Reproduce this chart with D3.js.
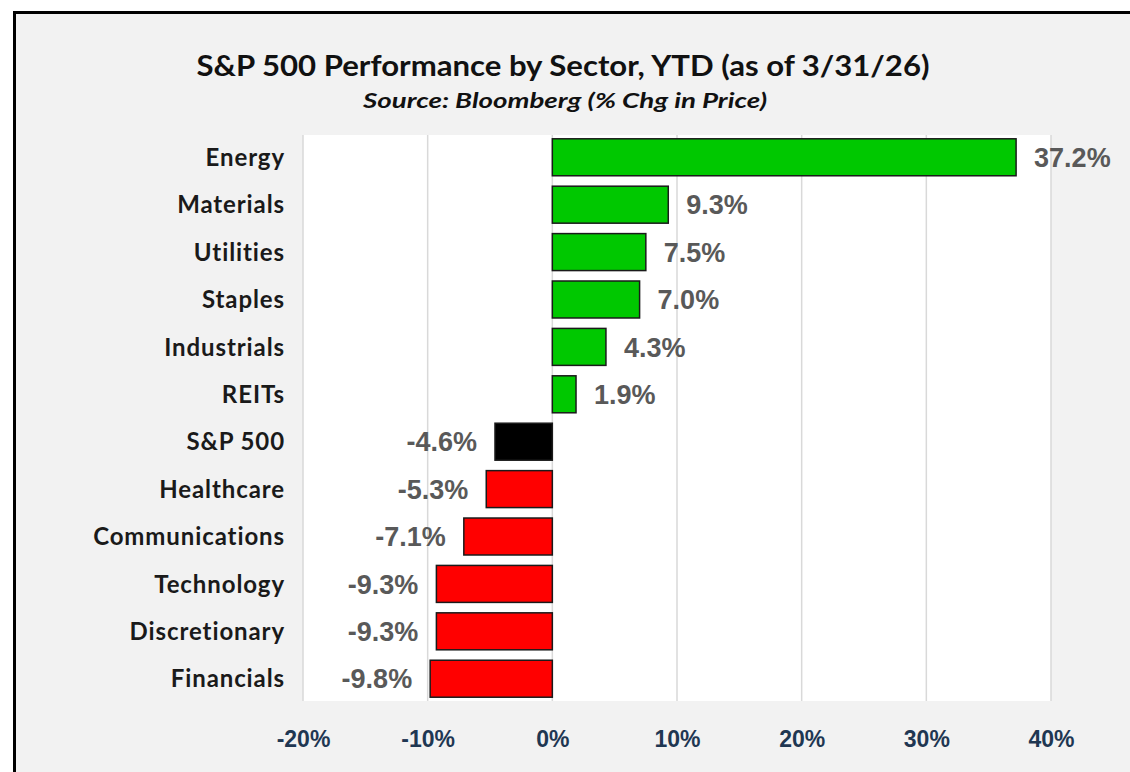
<!DOCTYPE html>
<html>
<head>
<meta charset="utf-8">
<script src="https://cdn.jsdelivr.net/npm/d3@7"></script>
<style>
  body { margin: 0; background: #ffffff; }
</style>
</head>
<body>
<div id="chart"></div>
<script>
const sectors = ["Energy", "Materials", "Utilities", "Staples", "Industrials", "REITs",
  "S&P 500", "Healthcare", "Communications", "Technology", "Discretionary", "Financials"];
const changes = [37.2, 9.3, 7.5, 7.0, 4.3, 1.9, -4.6, -5.3, -7.1, -9.3, -9.3, -9.8];
const tickValues = [-20, -10, 0, 10, 20, 30, 40];

const width = 1130, height = 772;

const svg = d3.select("#chart").append("svg")
  .attr("width", width).attr("height", height);

// frame
svg.append("rect")
  .attr("x", 14.5).attr("y", 12.5)
  .attr("width", width + 20).attr("height", height + 20)
  .attr("fill", "#f2f2f2")
  .attr("stroke", "#000").attr("stroke-width", 3);

const plot = { left: 303, right: 1051, top: 135, bottom: 701 };

const x = d3.scaleLinear().domain([-20, 40]).range([plot.left, plot.right]);
const y = d3.scaleBand().domain(sectors).range([plot.top, plot.bottom]).paddingInner(0.22).paddingOuter(0.08);

svg.append("rect")
  .attr("x", plot.left).attr("y", plot.top)
  .attr("width", plot.right - plot.left).attr("height", plot.bottom - plot.top)
  .attr("fill", "#fff");

// gridlines
svg.append("g")
  .selectAll("line")
  .data(tickValues)
  .enter()
  .append("line")
  .attr("x1", d => x(d)).attr("x2", d => x(d))
  .attr("y1", plot.top).attr("y2", plot.bottom)
  .attr("stroke", "#d9d9d9").attr("stroke-width", 1.5);

// x axis tick labels
const xAxis = d3.axisBottom(x).tickValues(tickValues).tickSize(0).tickFormat(d => d + "%");
const gx = svg.append("g")
  .attr("transform", "translate(0," + (plot.bottom + 27) + ")")
  .call(xAxis);
gx.select(".domain").remove();
gx.selectAll("text")
  .style("font-family", "'Liberation Sans Narrow', 'Arial Narrow', 'Liberation Sans', sans-serif")
  .style("font-stretch", "condensed")
  .style("font-weight", "bold")
  .style("font-size", "23px")
  .style("fill", "#1f3752");

// bars
const rows = sectors.map((s, i) => ({ sector: s, value: changes[i] }));

svg.append("g")
  .selectAll("rect")
  .data(rows)
  .enter()
  .append("rect")
  .attr("x", d => x(Math.min(0, d.value)))
  .attr("y", d => y(d.sector))
  .attr("width", d => Math.abs(x(d.value) - x(0)))
  .attr("height", y.bandwidth())
  .attr("fill", d => d.sector === "S&P 500" ? "#000" : (d.value >= 0 ? "#00c800" : "#ff0000"))
  .attr("stroke", "#1a1a1a")
  .attr("stroke-width", 1.5);

// value labels
svg.append("g")
  .selectAll("text")
  .data(rows)
  .enter()
  .append("text")
  .attr("x", d => d.value >= 0 ? x(d.value) + 18 : x(d.value) - 18)
  .attr("y", d => y(d.sector) + y.bandwidth() / 2)
  .attr("dy", "0.36em")
  .attr("text-anchor", d => d.value >= 0 ? "start" : "end")
  .text(d => d.value.toFixed(1) + "%")
  .style("font-family", "'Liberation Sans', Arial, sans-serif")
  .style("font-weight", "bold")
  .style("font-size", "27px")
  .style("fill", "#595959");

// category labels
svg.append("g")
  .selectAll("text")
  .data(rows)
  .enter()
  .append("text")
  .attr("x", 285)
  .attr("y", d => y(d.sector) + y.bandwidth() / 2)
  .attr("dy", "0.36em")
  .attr("text-anchor", "end")
  .text(d => d.sector)
  .style("font-family", "Lato, 'Open Sans', sans-serif")
  .style("font-weight", "bold")
  .style("font-size", "24px")
  .style("letter-spacing", "0.9px")
  .style("fill", "#1a1a1a");

// titles
svg.append("text")
  .attr("x", 563).attr("y", 76)
  .attr("text-anchor", "middle")
  .attr("textLength", 733)
  .attr("lengthAdjust", "spacingAndGlyphs")
  .text("S&P 500 Performance by Sector, YTD (as of 3/31/26)")
  .style("font-family", "Lato, 'Open Sans', sans-serif")
  .style("font-weight", "bold")
  .style("font-size", "28px")
  .style("fill", "#111");

svg.append("text")
  .attr("x", 565).attr("y", 108)
  .attr("text-anchor", "middle")
  .attr("textLength", 404)
  .attr("lengthAdjust", "spacingAndGlyphs")
  .text("Source: Bloomberg (% Chg in Price)")
  .style("font-family", "Lato, 'Open Sans', sans-serif")
  .style("font-weight", "bold")
  .style("font-style", "italic")
  .style("font-size", "21px")
  .style("fill", "#111");
</script>
</body>
</html>
